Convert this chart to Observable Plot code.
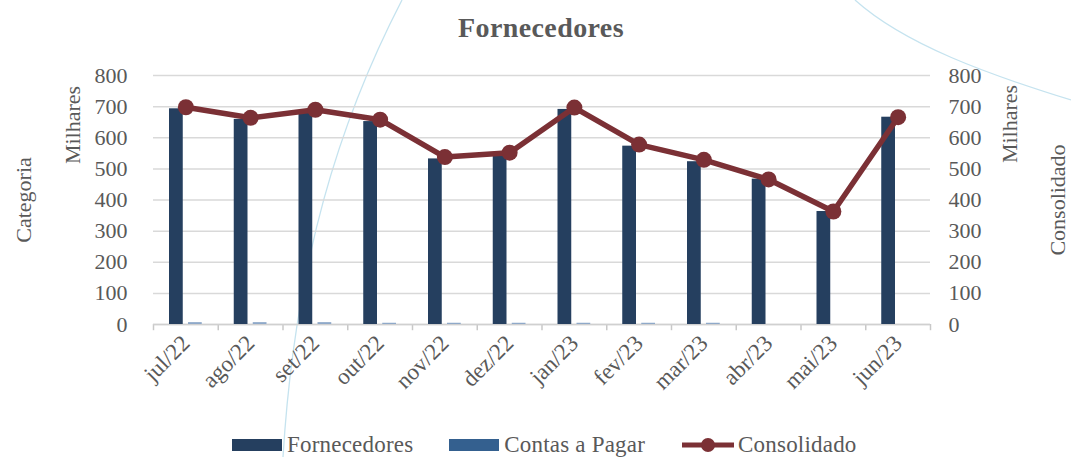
<!DOCTYPE html>
<html>
<head>
<meta charset="utf-8">
<script src="https://cdn.jsdelivr.net/npm/d3@7"></script>
<script src="https://cdn.jsdelivr.net/npm/@observablehq/plot@0.6"></script>
<style>
  html, body { margin: 0; padding: 0; background: #ffffff; }
  #wrap { position: relative; width: 1071px; height: 457px; overflow: hidden; font-family: "Liberation Serif", serif; color: #595959; }
  #deco { position: absolute; left: 0; top: 0; }
  #title { position: absolute; left: 0; width: 1082px; top: 10px; text-align: center; font-size: 28px; font-weight: bold; line-height: 36px; letter-spacing: 0.4px; }
  #chart { position: absolute; left: 0; top: 50px; }
  #legend { position: absolute; left: 232px; top: 432px; display: flex; align-items: center; font-size: 23px; height: 26px; white-space: nowrap; letter-spacing: 0.2px; }
  .item { display: flex; align-items: center; margin-right: 36px; }
  .sw { width: 50px; height: 12px; margin-right: 5px; }
</style>
</head>
<body>
<div id="wrap">
  <svg id="deco" width="1071" height="457">
    <path d="M 402 0 C 340 120 295 260 283 457" fill="none" stroke="#c5e3ef" stroke-width="1.3"/>
    <path d="M 855 0 C 905 45 990 75 1071 100" fill="none" stroke="#c5e3ef" stroke-width="1.3"/>
  </svg>
  <div id="title">Fornecedores</div>
  <div id="chart"></div>
  <div id="legend"></div>
</div>
<script>
const months = ["jul/22","ago/22","set/22","out/22","nov/22","dez/22","jan/23","fev/23","mar/23","abr/23","mai/23","jun/23"];
const fornecedores = [693, 659, 684, 652, 532, 543, 691, 573, 523, 467, 363, 666];
const contasPagar = [6, 6, 6, 4, 4, 4, 4, 4, 4, 0, 0, 0];
const consolidado = [698, 664, 690, 658, 538, 552, 697, 578, 529, 466, 363, 666];
const yTicks = [0, 100, 200, 300, 400, 500, 600, 700, 800];

const seriesNames = ["Fornecedores", "Contas a Pagar", "Consolidado"];
const colors = ["#253f5f", "#34608f", "#7b3035"];

const rows = months.map((m, i) => ({month: m, fornecedores: fornecedores[i], contas: contasPagar[i], consolidado: consolidado[i]}));

const W = 1071, mL = 153, mR = 141;
const bw = (W - mL - mR) / months.length;
const textColor = "#595959";

const chart = Plot.plot({
  width: W,
  height: 380,
  marginLeft: mL,
  marginRight: mR,
  marginTop: 25,
  marginBottom: 106,
  x: {type: "band", domain: months, padding: 0, round: false, axis: null},
  y: {domain: [0, 800], axis: null},
  style: {fontFamily: "Liberation Serif", fontSize: "22px", color: textColor, background: "transparent", overflow: "visible"},
  marks: [
    Plot.gridY(yTicks, {stroke: "#d9d9d9", strokeOpacity: 1, strokeWidth: 1.5}),
    Plot.ruleX(months, {x: d => d, dx: -bw / 2, y1: 0, y2: -20, stroke: "#c8c8c8", strokeWidth: 1.5}),
    Plot.ruleX(months.slice(-1), {x: d => d, dx: bw / 2, y1: 0, y2: -20, stroke: "#c8c8c8", strokeWidth: 1.5}),
    Plot.ruleY([0], {stroke: "#d0d0d0", strokeWidth: 1.5}),
    Plot.barY(rows, {x: "month", y: "fornecedores", fill: colors[0], insetLeft: 16, insetRight: 35}),
    Plot.barY(rows, {x: "month", y: "contas", fill: "#8fa9c9", insetLeft: 35, insetRight: 16}),
    Plot.lineY(rows, {x: "month", y: "consolidado", stroke: colors[2], strokeWidth: 5.5}),
    Plot.dot(rows, {x: "month", y: "consolidado", r: 8, fill: colors[2]}),
    Plot.axisY(yTicks, {anchor: "left", tickSize: 0, tickPadding: 26, fill: textColor, tickFormat: d => String(d), fontSize: 22, label: null}),
    Plot.axisY(yTicks, {anchor: "right", tickSize: 0, tickPadding: 18, fill: textColor, tickFormat: d => String(d), fontSize: 22, label: null}),
    Plot.axisX({tickSize: 0, tickPadding: 15, tickRotate: -45, fill: textColor, fontSize: 23, letterSpacing: 3, label: null}),
    Plot.text(["Categoria"], {frameAnchor: "left", textAnchor: "middle", dx: -130, rotate: -90, fill: textColor, fontSize: 22, text: d => d}),
    Plot.text(["Milhares"], {frameAnchor: "left", textAnchor: "middle", dx: -81, dy: -75, rotate: -90, fill: textColor, fontSize: 22, text: d => d}),
    Plot.text(["Milhares"], {frameAnchor: "right", textAnchor: "middle", dx: 79, dy: -76, rotate: -90, fill: textColor, fontSize: 22, text: d => d}),
    Plot.text(["Consolidado"], {frameAnchor: "right", textAnchor: "middle", dx: 127, rotate: -90, fill: textColor, fontSize: 22, text: d => d})
  ]
});
document.getElementById("chart").appendChild(chart);

const legend = document.getElementById("legend");
seriesNames.forEach((name, i) => {
  const item = document.createElement("div");
  item.className = "item";
  if (i < 2) {
    const sw = document.createElement("div");
    sw.className = "sw";
    sw.style.background = colors[i];
    item.appendChild(sw);
  } else {
    const ns = "http://www.w3.org/2000/svg";
    const s = document.createElementNS(ns, "svg");
    s.setAttribute("width", "54"); s.setAttribute("height", "18");
    s.style.marginRight = "3px";
    const l = document.createElementNS(ns, "line");
    l.setAttribute("x1", "1"); l.setAttribute("x2", "53"); l.setAttribute("y1", "9"); l.setAttribute("y2", "9");
    l.setAttribute("stroke", colors[2]); l.setAttribute("stroke-width", "5");
    const c = document.createElementNS(ns, "circle");
    c.setAttribute("cx", "27"); c.setAttribute("cy", "9"); c.setAttribute("r", "7");
    c.setAttribute("fill", colors[2]);
    s.appendChild(l); s.appendChild(c);
    item.appendChild(s);
  }
  const t = document.createElement("span");
  t.textContent = name;
  item.appendChild(t);
  legend.appendChild(item);
});
</script>
</body>
</html>
